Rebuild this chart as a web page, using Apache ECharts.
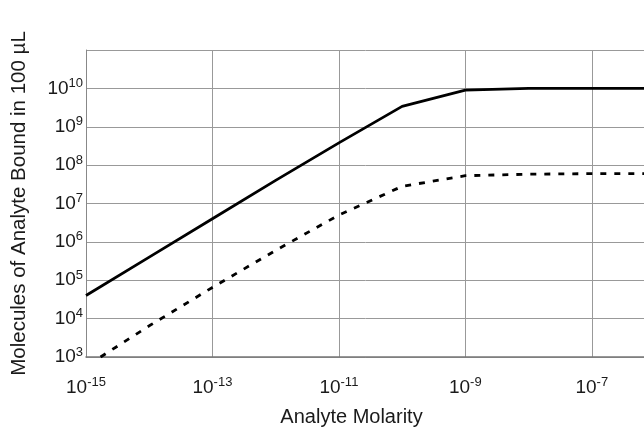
<!DOCTYPE html>
<html><head><meta charset="utf-8">
<script src="https://cdn.jsdelivr.net/npm/echarts@6/dist/echarts.min.js"></script>
<style>html,body{margin:0;padding:0;background:#fff}#c{width:644px;height:428px}</style>
</head><body><div id="c"></div>
<script>
// Analyte molarity (M) and molecules bound in 100 µL
const solidMolarity = [1e-15, 1e-14, 1e-13, 1e-12, 1e-11, 1e-10, 1e-9, 1e-8, 1e-7, 1e-6];
const solidBound    = [4e4, 4e5, 4e6, 4e7, 3.8e8, 3.4e9, 9e9, 1e10, 1e10, 1e10];
const dashMolarity  = [1.7e-15, 1e-14, 1e-13, 1e-12, 1e-11, 1e-10, 1e-9, 1e-8, 1e-7, 1e-6];
const dashBound     = [1e3, 6.5e3, 6.5e4, 6e5, 5e6, 2.8e7, 5.3e7, 5.8e7, 6e7, 6e7];
const xTickExponents = [-15, -13, -11, -9, -7];
const yTickExponents = [3, 4, 5, 6, 7, 8, 9, 10];

const toPts = (xs, ys) => xs.map((x, i) => [Math.log10(x), Math.log10(ys[i])]);
const font = 'Liberation Sans, Arial, sans-serif';
const rich = {
  b: {fontSize: 19, color: '#1a1a1a', fontFamily: font},
  s: {fontSize: 13, color: '#1a1a1a', fontFamily: font, padding: [0, 0, 10, 0]}
};
const chart = echarts.init(document.getElementById('c'));
chart.setOption({
  animation: false,
  grid: {left: 86, width: 569, top: 50, height: 307, containLabel: false, outerBoundsMode: 'none'},
  xAxis: {
    type: 'value', min: -15, max: -6, interval: 2,
    name: 'Analyte Molarity', nameLocation: 'middle', nameGap: 50,
    nameTextStyle: {fontSize: 20, color: '#1a1a1a', fontFamily: font, padding: [0, 38, 0, 0]},
    axisLine: {show: true, lineStyle: {color: '#777', width: 1.5}},
    axisTick: {show: false},
    splitLine: {show: true, lineStyle: {color: '#999', width: 1}},
    axisLabel: {
      margin: 19, rich,
      formatter: v => xTickExponents.includes(Math.round(v)) ? '{b|10}{s|' + Math.round(v) + '}' : ''
    }
  },
  yAxis: {
    type: 'value', min: 3, max: 11, interval: 1,
    name: 'Molecules of Analyte Bound in 100 µL', nameLocation: 'middle', nameGap: 56,
    nameTextStyle: {fontSize: 20.5, color: '#1a1a1a', fontFamily: font},
    axisLine: {show: true, lineStyle: {color: '#888', width: 1}},
    axisTick: {show: false},
    splitLine: {show: true, lineStyle: {color: '#999', width: 1}},
    axisLabel: {
      margin: 3, rich,
      formatter: v => yTickExponents.includes(Math.round(v)) ? '{b|10}{s|' + Math.round(v) + '}' : ''
    }
  },
  series: [
    {type: 'line', data: toPts(solidMolarity, solidBound), showSymbol: false,
     lineStyle: {color: '#000', width: 2.8}},
    {type: 'line', data: toPts(dashMolarity, dashBound), showSymbol: false,
     lineStyle: {color: '#000', width: 2.8, type: [6, 8]}}
  ]
});
</script></body></html>
